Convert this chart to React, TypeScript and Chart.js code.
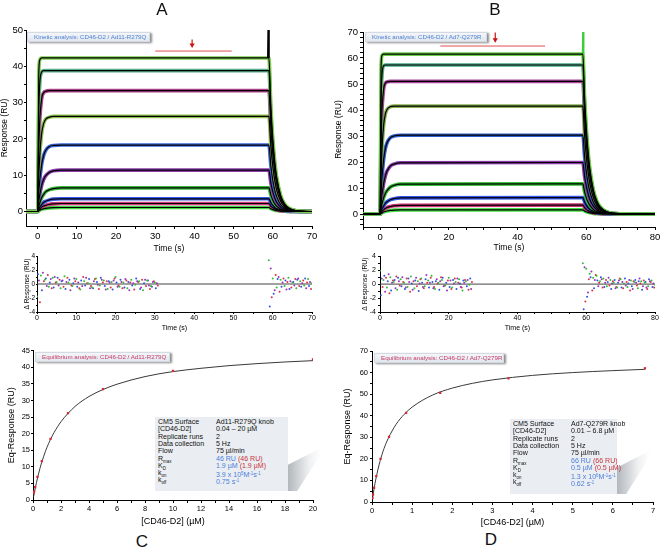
import React, { useEffect, useRef } from "react";
import { Chart, registerables } from "chart.js";

Chart.register(...registerables);

const FONT = "'Liberation Sans', Arial, Helvetica, sans-serif";
Chart.defaults.font.family = FONT;
Chart.defaults.color = "#000";

// ---------------- Panels A / B : kinetic sensorgrams ----------------
const fitTime = [-5, 0, 0.25, 0.5, 1, 1.5, 2, 3, 4, 6, 59, 59.5, 60, 60.5, 61, 62, 63, 64, 66, 70, 80];

const fitA1 = [0, 0, 37.3, 41.7, 42.3, 42.3, 42.3, 42.3, 42.3, 42.3, 42.3, 29.1, 20.0, 13.7, 9.4, 4.4, 2.1, 1.0, 0.2, 0, 0];
const fitA2 = [0, 0, 26.7, 35.0, 38.4, 38.8, 38.8, 38.8, 38.8, 38.8, 38.8, 26.7, 18.3, 12.6, 8.7, 4.1, 1.9, 0.9, 0.2, 0, 0];
const fitA3 = [0, 0, 16.4, 24.7, 31.1, 32.7, 33.1, 33.3, 33.3, 33.3, 33.3, 22.9, 15.7, 10.8, 7.4, 3.5, 1.7, 0.8, 0.2, 0, 0];
const fitA4 = [0, 0, 9.2, 15.1, 21.5, 24.2, 25.4, 26.0, 26.2, 26.2, 26.2, 18.0, 12.4, 8.5, 5.8, 2.8, 1.3, 0.6, 0.1, 0, 0];
const fitA5 = [0, 0, 4.9, 8.4, 13.0, 15.4, 16.8, 17.9, 18.2, 18.3, 18.3, 12.6, 8.6, 5.9, 4.1, 1.9, 0.9, 0.4, 0.1, 0, 0];
const fitA6 = [0, 0, 2.5, 4.5, 7.2, 8.8, 9.8, 10.8, 11.2, 11.4, 11.4, 7.8, 5.4, 3.7, 2.5, 1.2, 0.6, 0.3, 0.1, 0, 0];
const fitA7 = [0, 0, 1.3, 2.3, 3.8, 4.7, 5.4, 6.0, 6.3, 6.5, 6.5, 4.5, 3.1, 2.1, 1.4, 0.7, 0.3, 0.2, 0, 0, 0];
const fitA8 = [0, 0, 0.6, 1.2, 1.9, 2.5, 2.8, 3.2, 3.4, 3.5, 3.5, 2.4, 1.7, 1.1, 0.8, 0.4, 0.2, 0.1, 0, 0, 0];
const fitA9 = [0, 0, 0.4, 0.7, 1.2, 1.5, 1.7, 2.0, 2.1, 2.2, 2.2, 1.5, 1.0, 0.7, 0.5, 0.2, 0.1, 0, 0, 0, 0];
const fitA10 = [0, 0, 0.2, 0.35, 0.6, 0.75, 0.86, 0.99, 1.05, 1.1, 1.1, 0.76, 0.52, 0.36, 0.25, 0.12, 0.06, 0.03, 0, 0, 0];

const fitB1 = [0, 0, 55.7, 60.9, 61.5, 61.5, 61.5, 61.5, 61.5, 61.5, 61.5, 45.1, 33.1, 24.3, 17.8, 9.6, 5.2, 2.8, 0.8, 0.1, 0];
const fitB2 = [0, 0, 41.0, 52.7, 57.0, 57.3, 57.3, 57.3, 57.3, 57.3, 57.3, 42.0, 30.8, 22.6, 16.6, 8.9, 4.8, 2.6, 0.7, 0.1, 0];
const fitB3 = [0, 0, 25.9, 38.6, 48.0, 50.3, 50.8, 51, 51, 51, 51, 37.4, 27.4, 20.1, 14.7, 8.0, 4.3, 2.3, 0.7, 0.1, 0];
const fitB4 = [0, 0, 14.5, 24.0, 34.1, 38.4, 40.2, 41.3, 41.5, 41.5, 41.5, 30.4, 22.3, 16.4, 12.0, 6.5, 3.5, 1.9, 0.5, 0, 0];
const fitB5 = [0, 0, 7.7, 13.4, 20.9, 25.1, 27.4, 29.4, 30.0, 30.3, 30.3, 22.2, 16.3, 12.0, 8.8, 4.7, 2.5, 1.4, 0.4, 0, 0];
const fitB6 = [0, 0, 4.0, 7.1, 11.7, 14.6, 16.5, 18.5, 19.2, 19.7, 19.8, 14.5, 10.7, 7.8, 5.7, 3.1, 1.7, 0.9, 0.3, 0, 0];
const fitB7 = [0, 0, 2.0, 3.7, 6.2, 7.9, 9.0, 10.4, 11.0, 11.5, 11.6, 8.5, 6.2, 4.6, 3.4, 1.8, 1.0, 0.5, 0.2, 0, 0];
const fitB8 = [0, 0, 1.0, 1.8, 3.1, 4.1, 4.7, 5.5, 5.9, 6.2, 6.3, 4.6, 3.4, 2.5, 1.8, 1.0, 0.5, 0.3, 0.1, 0, 0];
const fitB9 = [0, 0, 0.5, 0.95, 1.6, 2.1, 2.5, 2.9, 3.15, 3.33, 3.4, 2.5, 1.8, 1.3, 1.0, 0.5, 0.3, 0.15, 0, 0, 0];
const fitB10 = [0, 0, 0.24, 0.44, 0.75, 0.98, 1.15, 1.36, 1.48, 1.56, 1.6, 1.17, 0.86, 0.63, 0.46, 0.25, 0.13, 0.07, 0.02, 0, 0];

const traceColorsA = ["#7ccb4e", "#55b08a", "#b0408c", "#8fc24c", "#3a66d8", "#8a3cae", "#3dbb3d", "#3657e6", "#cc3a7a", "#44d444"];
const traceColorsB = ["#6ccc48", "#4aa88a", "#a8449a", "#88b050", "#3060d0", "#8a3aa8", "#33bb33", "#3355ee", "#cc3377", "#44dd44"];

const spikeATime = [58.75, 58.85, 59.0];
const spikeAResp = [42.3, 51, 42.3];
const spikeBTime = [58.95, 59.05, 59.2];
const spikeBResp = [61.5, 71, 61.5];

const windowATime = [30, 49.5];
const windowAResp = [44.2, 44.2];
const arrowATime = [39.4, 39.4];
const arrowAResp = [47.4, 45.9];
const windowBTime = [17.5, 48];
const windowBResp = [64.6, 64.6];
const arrowBTime = [33.5, 33.5];
const arrowBResp = [69.8, 67.0];

// ---------------- residuals (ΔResponse, 1 s sampling per replicate trace) ----------------
const residualOffsets = [0, 0.25, 0.5, 0.75];
const resColors = ["#33bb33", "#3355dd", "#9933bb", "#dd3344"];

const resA1 = [-1.8, 1.2, 0.6, -0.4, 0.9, 0.3, -0.6, 1.1, 0.2, -0.3, 0.7, -0.8, 0.4, 0.1, -0.5, 0.8, -0.2, 0.5, -0.7, 0.3, 1.0, -0.4, 0.2, -0.6, 0.6, -0.1, 0.4, -0.9, 0.5, -0.3, 0.2];
const resA2 = [1.4, -0.9, 0.8, 0.2, -0.5, 0.9, 0.4, -0.7, 0.6, 0.1, -0.4, 0.5, -0.2, 0.7, -0.6, 0.3, 0.9, -0.3, 0.4, -0.8, 0.2, 0.6, -0.5, 0.3, -0.2, 0.8, -0.7, 0.1, 0.5, -0.4, -0.6];
const resA3 = [0.5, 1.6, -0.3, 0.7, 1.0, -0.2, 0.5, 0.3, -0.9, 0.8, 0.2, -0.3, 0.9, -0.6, 0.4, -0.1, 0.6, -0.8, 0.2, 0.5, -0.4, 0.3, 0.7, -0.9, 0.1, 0.4, -0.5, 0.6, -0.2, 0.3, 0.1];
const resA4 = [-2.6, 0.4, 1.3, -0.6, 0.2, 0.6, -0.4, 0.9, -0.2, 0.4, -0.6, 1.0, 0.1, -0.3, 0.7, -0.7, 0.2, 0.4, -0.5, 0.8, -0.2, -0.6, 0.5, 0.2, -0.8, 0.3, 0.6, -0.3, -0.7, 0.4, -0.2];
const resA1b = [3.4, 0.8, -0.5, 0.6, -0.3, 0.9, 0.2, -0.6, 0.4, -0.2, 0.7, 0.1];
const resA2b = [-3.2, -1.4, 0.7, -0.4, 0.5, -0.7, 0.3, 0.6, -0.4, 0.8, -0.3, 0.2];
const resA3b = [2.2, -0.9, 1.0, 0.2, -0.8, 0.4, -0.2, 0.8, 0.1, -0.6, 0.3, -0.5];
const resA4b = [-1.9, 1.3, -1.1, 0.8, 0.3, -0.5, 0.7, -0.3, 0.5, 0.2, -0.7, 0.4];

const resB1 = [1.9, 0.6, -0.5, 1.0, 0.3, -0.8, 0.7, 0.2, -0.4, 1.1, -0.6, 0.4, 0.8, -0.3, 0.5, 1.2, -0.7, 0.2, 0.6, -0.2, 0.9, -0.5, 0.3, 0.7, -0.9, 0.4, -0.1];
const resB2 = [-1.6, 1.2, 0.4, -0.9, 0.6, 0.9, -0.3, -0.7, 0.8, 0.1, 0.5, -1.0, 0.2, 0.7, -0.5, 0.3, 0.4, -0.8, 0.9, 0.2, -0.4, 0.6, -0.7, 0.1, 0.5, -0.3, 0.8];
const resB3 = [0.8, -1.1, 1.4, 0.2, -0.6, 0.4, 1.0, -0.5, 0.3, -0.8, 0.9, 0.1, -0.4, 1.3, 0.2, -0.6, 0.7, 0.4, -0.3, -0.9, 0.5, 0.1, 0.8, -0.4, 0.2, 0.6, -0.7];
const resB4 = [-0.4, 0.9, -1.3, 0.5, 1.1, -0.2, 0.3, 0.8, -1.1, 0.4, -0.3, 0.7, -0.6, 0.2, 0.9, -0.4, 0.1, 1.0, -0.2, 0.5, -0.7, 0.8, 0.2, -0.5, 0.6, -0.8, 0.3];
const resB1b = [3.0, 2.2, 1.5, 0.9, 1.2, 0.4, 0.8, -0.3, 0.6, 0.2, -0.5, 0.7, 0.1, -0.4, 0.5, 0.3, -0.6, 0.4, 0.2, -0.3, 0.5, -0.1];
const resB2b = [-3.6, -1.8, 1.0, -0.6, 0.5, 1.0, -0.4, 0.3, -0.7, 0.6, 0.2, -0.5, 0.8, 0.1, -0.3, 0.6, 0.4, -0.8, 0.3, 0.7, -0.4, 0.2];
const resB3b = [2.4, -1.2, 1.8, 0.6, -0.3, 0.7, 0.2, 0.9, 0.1, -0.6, 0.5, 0.3, -0.2, 0.6, -0.7, 0.2, 0.8, -0.3, -0.5, 0.4, 0.1, -0.6];
const resB4b = [-2.5, 0.7, -0.9, 1.3, 0.2, -0.5, 0.6, -0.2, 0.4, -0.4, 0.8, -0.6, 0.3, -0.9, 0.4, -0.2, 0.1, 0.5, -0.7, 0.3, -0.5, 0.3];

const resAStart1 = 0;
const resAStart2 = 59;
const resBStart1 = 0;
const resBStart2 = 59;
const zeroLineA = [0, 70];
const zeroLineB = [0, 80];

// ---------------- Panels C / D : equilibrium ----------------
const eqConcC = [0.039, 0.078, 0.156, 0.3125, 0.625, 1.25, 2.5, 5, 10, 20];
const eqRespC = [2.1, 2.6, 3.9, 7.0, 11.7, 18.4, 26.2, 33.4, 38.9, 42.4];
const eqFitCx = [0.04, 0.1, 0.25, 0.5, 0.75, 1, 1.5, 2, 2.5, 3, 4, 5, 6, 8, 10, 12, 14, 16, 18, 20];
const eqFitCy = [0.95, 2.3, 5.3, 9.6, 13.0, 15.9, 20.3, 23.6, 26.1, 28.2, 31.2, 33.3, 34.9, 37.2, 38.7, 39.7, 40.5, 41.1, 41.6, 42.0];

const eqConcD = [0.013, 0.027, 0.053, 0.106, 0.2125, 0.425, 0.85, 1.7, 3.4, 6.8];
const eqRespD = [1.8, 3.5, 6.6, 12.0, 20.0, 30.2, 41.3, 50.6, 57.3, 62.0];
const eqFitDx = [0.01, 0.05, 0.1, 0.2, 0.3, 0.4, 0.6, 0.8, 1, 1.5, 2, 2.5, 3, 4, 5, 6, 6.8];
const eqFitDy = [1.3, 6.0, 11.0, 18.9, 24.8, 29.3, 36.0, 40.6, 44.0, 49.5, 52.8, 55.0, 56.6, 58.7, 60.0, 60.9, 61.5];

// ---------------- text ----------------
const labelKinA = "Kinetic analysis: CD46-D2 / Ad11-R279Q";
const labelKinB = "Kinetic analysis: CD46-D2 / Ad7-Q279R";
const labelEqC = "Equilibrium analysis: CD46-D2  / Ad11-R279Q";
const labelEqD = "Equilibrium analysis: CD46-D2 / Ad7-Q279R";

const infoKeys = ["CM5 Surface", "[CD46-D2]", "Replicate runs", "Data collection", "Flow"];
const infoC = ["Ad11-R279Q  knob", "0.04 – 20 µM", "2", "5 Hz", "75 µl/min"];
const infoD = ["Ad7-Q279R  knob", "0.01 – 6.8 µM", "2", "5 Hz", "75 µl/min"];
const fitParamsC = { rmax: "46 RU", rmaxSS: "(46 RU)", kd: "1.9 µM", kdSS: "(1.9 µM)", kon: "3.9 x 10", konExp: "5", koff: "0.75 s" };
const fitParamsD = { rmax: "66 RU", rmaxSS: "(66 RU)", kd: "0.5 µM", kdSS: "(0.5 µM)", kon: "1.3 x 10", konExp: "6", koff: "0.62 s" };

// ---------------- helpers ----------------
const isMult = (v: number, e: number) => Math.abs(v / e - Math.round(v / e)) < 1e-6;

function axis(o: any) {
  return {
    type: "linear",
    position: o.pos === "x" ? "bottom" : "left",
    min: o.min,
    max: o.max,
    afterFit: (s: any) => {
      if (o.pos === "x") s.height = o.size;
      else s.width = o.size;
    },
    border: { display: true, color: "#000", width: 1 },
    grid: { display: true, drawOnChartArea: false, drawTicks: true, tickLength: o.tick, color: "#000", tickColor: "#000", lineWidth: 1 },
    ticks: {
      stepSize: o.step,
      includeBounds: false,
      autoSkip: false,
      maxRotation: 0,
      padding: o.pad,
      color: "#000",
      font: { size: o.font, family: FONT },
      callback: (v: number) => (isMult(v, o.every) ? String(Math.round(v * 100) / 100) : ""),
    },
    title: o.title
      ? { display: true, text: o.title, color: "#000", font: { size: o.titleFont, family: FONT }, padding: { top: o.titlePad, bottom: o.titlePad } }
      : { display: false },
  };
}

const pts = (xs: number[], ys: number[]) => xs.map((x, i) => ({ x, y: ys[i] }));

function baseOptions(padding: any, x: any, y: any) {
  return {
    responsive: false,
    maintainAspectRatio: false,
    animation: false,
    devicePixelRatio: 1,
    events: [],
    layout: { padding },
    plugins: { legend: { display: false }, tooltip: { enabled: false }, title: { display: false } },
    scales: { x, y },
  };
}

function kineticDatasets(fits: number[][], colors: string[], spikeT: number[], spikeR: number[], spikeColor: string, winT: number[], winR: number[], arT: number[], arR: number[]) {
  const ds: any[] = [];
  fits.forEach((f) =>
    ds.push({ data: pts(fitTime, f), showLine: true, borderColor: "#000", borderWidth: 1.2, pointRadius: 0, cubicInterpolationMode: "monotone", order: 0 })
  );
  ds.push({ data: pts(spikeT, spikeR), showLine: true, borderColor: spikeColor, borderWidth: 1.8, pointRadius: 0, order: 0 });
  ds.push({ data: pts(winT, winR), showLine: true, borderColor: "#e05050", borderWidth: 1, pointRadius: 0, order: 0 });
  ds.push({ data: pts(arT, arR), showLine: true, borderColor: "#cc1111", borderWidth: 1.2, pointRadius: 0, order: 0 });
  ds.push({
    data: [{ x: arT[1], y: arR[1] }],
    showLine: false,
    pointStyle: "triangle",
    rotation: 180,
    pointRadius: 3,
    backgroundColor: "#cc1111",
    borderColor: "#cc1111",
    borderWidth: 0,
    order: 0,
  });
  fits.forEach((f, k) =>
    ds.push({ data: pts(fitTime, f), showLine: true, borderColor: colors[k], borderWidth: 3.6, pointRadius: 0, cubicInterpolationMode: "monotone", order: 1 })
  );
  return ds;
}

function residualDatasets(seg1: number[][], seg2: number[][], start1: number, start2: number, zero: number[]) {
  const ds: any[] = [];
  seg1.forEach((arr, k) => {
    const data = arr.map((v, i) => ({ x: start1 + i + residualOffsets[k], y: v })).concat(
      seg2[k].map((v, i) => ({ x: start2 + i + residualOffsets[k], y: v }))
    );
    ds.push({ data, showLine: false, pointRadius: 1, pointStyle: "circle", backgroundColor: resColors[k], borderWidth: 0, order: 0 });
  });
  ds.push({ data: pts(zero, [0, 0]), showLine: true, borderColor: "#444", borderWidth: 1, pointRadius: 0, order: 2 });
  return ds;
}

function eqDatasets(fx: number[], fy: number[], cx: number[], cy: number[]) {
  return [
    { data: pts(cx, cy), showLine: false, pointStyle: "rect", pointRadius: 1.6, backgroundColor: "#d42a36", borderWidth: 0, order: 0 },
    { data: pts(fx, fy), showLine: true, borderColor: "#3a3a3a", borderWidth: 1, pointRadius: 0, cubicInterpolationMode: "monotone", order: 1 },
  ];
}

const configs: Record<string, () => any> = {
  kinA: () => ({
    type: "scatter",
    data: {
      datasets: kineticDatasets(
        [fitA1, fitA2, fitA3, fitA4, fitA5, fitA6, fitA7, fitA8, fitA9, fitA10],
        traceColorsA, spikeATime, spikeAResp, "#000", windowATime, windowAResp, arrowATime, arrowAResp
      ),
    },
    options: baseOptions(
      { top: 30, right: 8, left: 0, bottom: 0 },
      axis({ pos: "x", min: -3, max: 70, step: 5, every: 10, size: 30, tick: 3, pad: 2, font: 9.5, title: "Time (s)", titleFont: 8.5, titlePad: 2 }),
      axis({ pos: "y", min: -4, max: 50, step: 5, every: 10, size: 26, tick: 2, pad: 1, font: 9.5, title: "Response (RU)", titleFont: 8.5, titlePad: 0 })
    ),
  }),
  kinB: () => ({
    type: "scatter",
    data: {
      datasets: kineticDatasets(
        [fitB1, fitB2, fitB3, fitB4, fitB5, fitB6, fitB7, fitB8, fitB9, fitB10],
        traceColorsB, spikeBTime, spikeBResp, "#3ccc3c", windowBTime, windowBResp, arrowBTime, arrowBResp
      ),
    },
    options: baseOptions(
      { top: 32, right: 9, left: 0, bottom: 0 },
      axis({ pos: "x", min: -5, max: 80, step: 5, every: 20, size: 29, tick: 3, pad: 2, font: 9.5, title: "Time (s)", titleFont: 8.5, titlePad: 3 }),
      axis({ pos: "y", min: -5, max: 70, step: 2, every: 10, size: 31, tick: 3, pad: 2, font: 9.5, title: "Response (RU)", titleFont: 8.5, titlePad: 2 })
    ),
  }),
  resA: () => ({
    type: "scatter",
    data: { datasets: residualDatasets([resA1, resA2, resA3, resA4], [resA1b, resA2b, resA3b, resA4b], resAStart1, resAStart2, zeroLineA) },
    options: baseOptions(
      { top: 6, right: 8, left: 23, bottom: 0 },
      axis({ pos: "x", min: 0, max: 70, step: 5, every: 10, size: 22, tick: 2, pad: 0, font: 7, title: "Time (s)", titleFont: 7, titlePad: 1.5 }),
      axis({ pos: "y", min: -4, max: 4, step: 1, every: 2, size: 14, tick: 1, pad: 1, font: 6.5, title: "Δ Response (RU)", titleFont: 6.5, titlePad: 0 })
    ),
  }),
  resB: () => ({
    type: "scatter",
    data: { datasets: residualDatasets([resB1, resB2, resB3, resB4], [resB1b, resB2b, resB3b, resB4b], resBStart1, resBStart2, zeroLineB) },
    options: baseOptions(
      { top: 6, right: 9, left: 29, bottom: 0 },
      axis({ pos: "x", min: 0, max: 80, step: 5, every: 20, size: 22, tick: 2, pad: 0, font: 7, title: "Time (s)", titleFont: 7, titlePad: 1.5 }),
      axis({ pos: "y", min: -4, max: 4, step: 1, every: 2, size: 19, tick: 2, pad: 2, font: 7, title: "Δ Response (RU)", titleFont: 6.8, titlePad: 0 })
    ),
  }),
  eqC: () => ({
    type: "scatter",
    data: { datasets: eqDatasets(eqFitCx, eqFitCy, eqConcC, eqRespC) },
    options: baseOptions(
      { top: 10.7, right: 19, left: 0, bottom: 0 },
      axis({ pos: "x", min: 0, max: 20, step: 1, every: 2, size: 27, tick: 3, pad: 1, font: 7.5, title: "[CD46-D2] (µM)", titleFont: 9, titlePad: 0 }),
      axis({ pos: "y", min: 0, max: 45, step: 5, every: 5, size: 33, tick: 2, pad: 1, font: 7.5, title: "Eq-Response (RU)", titleFont: 9, titlePad: 6.5 })
    ),
  }),
  eqD: () => ({
    type: "scatter",
    data: { datasets: eqDatasets(eqFitDx, eqFitDy, eqConcD, eqRespD) },
    options: baseOptions(
      { top: 11, right: 11, left: 0, bottom: 0 },
      axis({ pos: "x", min: 0, max: 7, step: 0.5, every: 1, size: 26, tick: 3, pad: 1, font: 7.5, title: "[CD46-D2] (µM)", titleFont: 9, titlePad: 0 }),
      axis({ pos: "y", min: 0, max: 70, step: 5, every: 10, size: 40, tick: 2, pad: 2, font: 7.5, title: "Eq-Response (RU)", titleFont: 9, titlePad: 10 })
    ),
  }),
};

function ChartCanvas({ id, left, top, width, height }: { id: string; left: number; top: number; width: number; height: number }) {
  const ref = useRef<HTMLCanvasElement>(null);
  useEffect(() => {
    const chart = new Chart(ref.current as HTMLCanvasElement, configs[id]());
    return () => chart.destroy();
  }, [id]);
  return <canvas ref={ref} width={width} height={height} style={{ position: "absolute", left, top, width, height }} />;
}

function TagBox({ left, top, width, text, color }: { left: number; top: number; width: number; text: string; color: string }) {
  return (
    <div
      style={{
        position: "absolute",
        left,
        top,
        width,
        height: 10,
        background: "linear-gradient(#f4f6f9, #e1e7ee)",
        border: "1px solid #d3dae3",
        boxShadow: "2px 1px 2px rgba(0,0,0,0.45)",
        boxSizing: "border-box",
        fontFamily: FONT,
        fontSize: 6.2,
        lineHeight: "8px",
        color,
        paddingLeft: 6,
        whiteSpace: "nowrap",
      }}
    >
      {text}
    </div>
  );
}

const BLUE = "#4a7fdc";
const RED = "#c8323c";

function InfoTable({ left, top, width, height, col2, info, p }: any) {
  const rowH = 7.3;
  const sub = { fontSize: 5, verticalAlign: "-1.5px" } as any;
  const sup = { fontSize: 5, verticalAlign: "2.5px" } as any;
  const rows: [any, any][] = [
    ...infoKeys.map((k, i) => [k, info[i]] as [any, any]),
    [<span>R<span style={sub}>max</span></span>, <span><span style={{ color: BLUE }}>{p.rmax}</span>{"  "}<span style={{ color: RED }}>{p.rmaxSS}</span></span>],
    [<span>K<span style={sub}>D</span></span>, <span><span style={{ color: BLUE }}>{p.kd}</span> <span style={{ color: RED }}>{p.kdSS}</span></span>],
    [<span>k<span style={sub}>on</span></span>, <span style={{ color: BLUE }}>{p.kon}<span style={sup}>{p.konExp}</span>M<span style={sup}>-1</span>s<span style={sup}>-1</span></span>],
    [<span>k<span style={sub}>off</span></span>, <span style={{ color: BLUE }}>{p.koff}<span style={sup}>-1</span></span>],
  ];
  return (
    <>
      <div
        style={{
          position: "absolute",
          left: left + width - 1,
          top: top + height * 0.42,
          width: 34,
          height: height * 0.58,
          background: "linear-gradient(to right, rgba(110,120,130,0.55), rgba(190,196,202,0.25) 65%, rgba(255,255,255,0))",
          clipPath: "polygon(0% 40%, 100% 0%, 100% 14%, 30% 100%, 0% 100%)",
        }}
      />
      <div style={{ position: "absolute", left, top, width, height, background: "#eaeef2" }} />
      {rows.map((r, i) => (
        <React.Fragment key={i}>
          <div style={{ position: "absolute", left: left + 3, top: top + 1 + i * rowH, fontFamily: FONT, fontSize: 8, lineHeight: `${rowH}px`, color: "#111", whiteSpace: "nowrap", transform: "scaleX(0.88)", transformOrigin: "left" }}>
            {r[0]}
          </div>
          <div style={{ position: "absolute", left: col2, top: top + 1 + i * rowH, fontFamily: FONT, fontSize: 8, lineHeight: `${rowH}px`, color: "#111", whiteSpace: "nowrap", transform: "scaleX(0.88)", transformOrigin: "left" }}>
            {r[1]}
          </div>
        </React.Fragment>
      ))}
    </>
  );
}

function Letter({ x, y, t }: { x: number; y: number; t: string }) {
  return (
    <div style={{ position: "absolute", left: x - 10, top: y - 10, width: 20, height: 20, textAlign: "center", lineHeight: "20px", fontFamily: FONT, fontSize: 17, color: "#111" }}>
      {t}
    </div>
  );
}

export default function App() {
  return (
    <div style={{ position: "absolute", left: 0, top: 0, width: 664, height: 549, background: "#fff", overflow: "hidden" }}>
      <ChartCanvas id="kinA" left={0} top={0} width={320} height={256} />
      <ChartCanvas id="kinB" left={332} top={0} width={332} height={256} />
      <ChartCanvas id="resA" left={0} top={250} width={320} height={84} />
      <ChartCanvas id="resB" left={332} top={250} width={332} height={84} />
      <ChartCanvas id="eqC" left={0} top={340} width={332} height={187} />
      <ChartCanvas id="eqD" left={332} top={340} width={332} height={188} />

      <TagBox left={27} top={32} width={123} text={labelKinA} color="#4f82d4" />
      <TagBox left={365} top={32} width={122} text={labelKinB} color="#4f82d4" />
      <TagBox left={35} top={352} width={135} text={labelEqC} color="#c83a66" />
      <TagBox left={374} top={353} width={130} text={labelEqD} color="#c83a66" />

      <InfoTable left={155} top={417} width={133} height={74} col2={216} info={infoC} p={fitParamsC} />
      <InfoTable left={510} top={419} width={107} height={75} col2={571} info={infoD} p={fitParamsD} />

      <Letter x={162} y={10} t="A" />
      <Letter x={495} y={10} t="B" />
      <Letter x={142} y={542} t="C" />
      <Letter x={491} y={540} t="D" />
    </div>
  );
}
